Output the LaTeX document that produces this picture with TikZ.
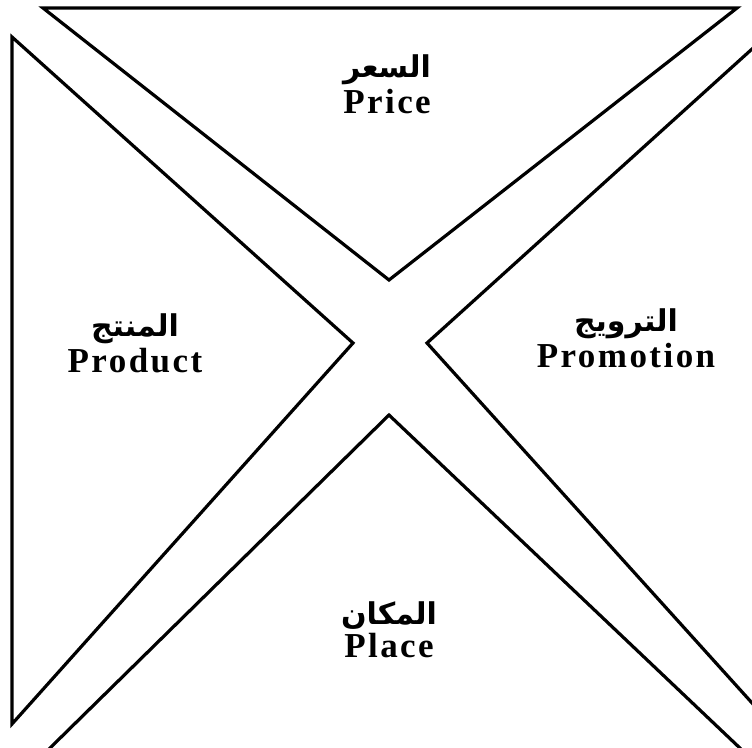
\documentclass[tikz,border=0pt]{standalone}
\usepackage{fontspec}
\setmainfont{Liberation Serif}
\newfontfamily\arabicfont[Script=Arabic]{DejaVu Sans}
\TeXXeTstate=1
\usetikzlibrary{positioning}
\definecolor{mixink}{HTML}{000000}
\tikzset{
  mixtri/.style={draw=mixink, line width=3.2pt, line join=miter},
  enlabel/.style={font=\fontsize{35}{35}\bfseries\addfontfeature{LetterSpace=7}, inner sep=0pt, anchor=base},
  arlabel/.style={font=\fontsize{30}{30}\arabicfont\bfseries, inner sep=0pt}
}

\begin{document}
\begin{tikzpicture}[x=1pt, y=-1pt]
  \useasboundingbox (0,0) rectangle (752,747);
  \clip (0,0) rectangle (752,747);
  % corners of the four triangles
  \coordinate (toplft) at (43,8);
  \coordinate (toprgt) at (737,8);
  \coordinate (topapx) at (389,280);
  \coordinate (lftup) at (12,37);
  \coordinate (lftdn) at (12,724);
  \coordinate (lftapx) at (353,343);
  \coordinate (rgtup) at (762,40);
  \coordinate (rgtdn) at (762,714);
  \coordinate (rgtapx) at (427,343);
  \coordinate (botlft) at (48,750);
  \coordinate (botrgt) at (742,750);
  \coordinate (botapx) at (389,415);
  % triangles
  \draw[mixtri] (toplft) -- (toprgt) -- (topapx) -- cycle;
  \draw[mixtri] (lftup) -- (lftapx) -- (lftdn) -- cycle;
  \draw[mixtri] (rgtup) -- (rgtapx) -- (rgtdn) -- cycle;
  \draw[mixtri] (botapx) -- (botrgt) -- (botlft) -- cycle;
  % labels
  \node[enlabel] (price) at (387,113) {Price};
  \node[arlabel, above=3pt of price] (pricear) {\beginR السعر\endR};
  \node[enlabel] (product) at (135,372) {Product};
  \node[arlabel, above=3pt of product] (productar) {\beginR المنتج\endR};
  \node[enlabel] (promotion) at (626,367) {Promotion};
  \node[arlabel, above=3pt of promotion] (promotionar) {\beginR الترويج\endR};
  \node[enlabel] (place) at (389,657) {Place};
  \node[arlabel, above=3pt of place] (placear) {\beginR المكان\endR};
\end{tikzpicture}
\end{document}
